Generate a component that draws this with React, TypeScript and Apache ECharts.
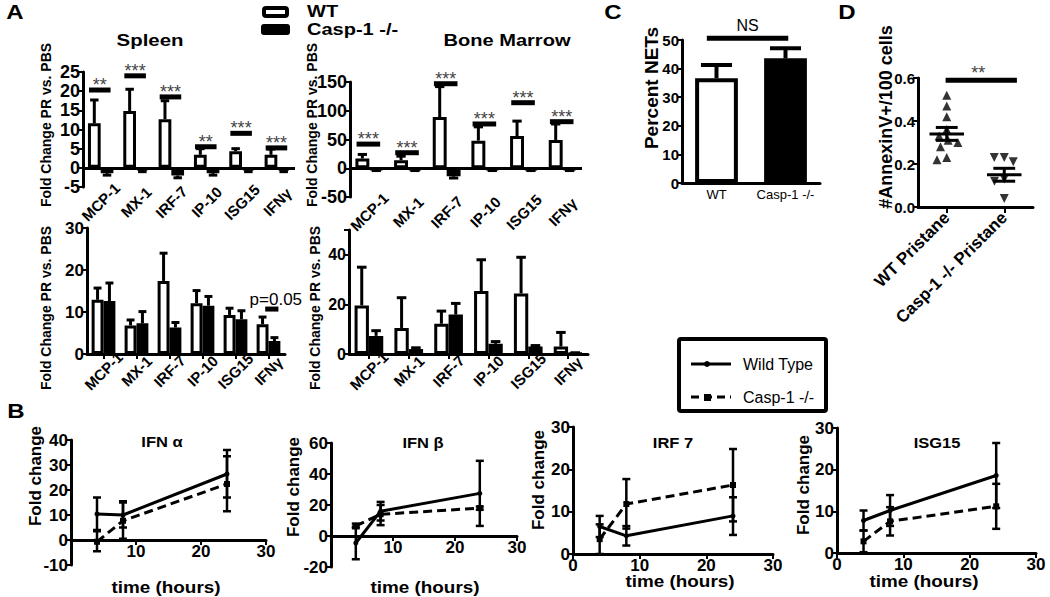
import React, { useEffect, useRef } from 'react';
import * as echarts from 'echarts';

const FONT = 'Arial, "Liberation Sans", Helvetica, sans-serif';

// ---------------- Panel A ----------------
const genes = ['MCP-1', 'MX-1', 'IRF-7', 'IP-10', 'ISG15', 'IFNγ'];

const spleenTopWT = [11.6, 14.8, 12.7, 3.4, 4.3, 3.4];
const spleenTopWTErr = [17.7, 20.5, 17.5, 5.0, 5.0, 4.9];
const spleenTopKO = [-1.4, -0.7, -2.0, -1.4, -0.7, -0.7];
const spleenTopKOErr = [-1.9, -1.0, -2.6, -1.9, -1.0, -1.0];
const spleenTopSig = [20.3, 24, 18.5, 5.5, 9, 5.2];
const spleenTopStars = ['**', '***', '***', '**', '***', '***'];

const marrowTopWT = [17, 14, 89, 48, 56, 49];
const marrowTopWTErr = [24, 21, 142, 72, 82, 77];
const marrowTopKO = [-3, -3, -14, -3, -3, -3];
const marrowTopKOErr = [-4, -4, -17, -4, -4, -4];
const marrowTopSig = [42, 27, 147, 77, 114, 81];
const marrowTopStars = ['***', '***', '***', '***', '***', '***'];

const spleenBotWT = [12.9, 6.8, 17.4, 12.1, 9.3, 7.1];
const spleenBotWTErr = [15.7, 8.1, 24, 15.1, 10.9, 8.8];
const spleenBotKO = [12.6, 7.3, 6.3, 11.5, 8.3, 3.1];
const spleenBotKOErr = [16.9, 10.1, 7.5, 13.7, 10.3, 3.9];
const spleenBotPIndex = 5;
const spleenBotPValue = 10.7;
const spleenBotPLabel = 'p=0.05';

const marrowBotWT = [19.6, 10.5, 12.2, 25.4, 24.4, 3];
const marrowBotWTErr = [35, 22.7, 17.3, 38, 39, 8.7];
const marrowBotKO = [7.3, 2, 15.9, 4.1, 3, 0.3];
const marrowBotKOErr = [9.4, 2.5, 20.4, 5, 3.4, 0.5];

// ---------------- Panel C ----------------
const netGroups = ['WT', 'Casp-1 -/-'];
const netMeans = [36.6, 43.6];
const netErr = [41.3, 47.1];
const netSig = 50.6;
const netSigLabel = 'NS';

// ---------------- Panel D ----------------
const annexGroups = ['WT Pristane', 'Casp-1 -/- Pristane'];
const annexWT = [0.52, 0.47, 0.42, 0.36, 0.33, 0.31, 0.30, 0.28, 0.23, 0.22];
const annexKO = [0.23, 0.23, 0.21, 0.13, 0.12, 0.04];
const annexMean = [0.34, 0.15];
const annexSemLo = [0.31, 0.12];
const annexSemHi = [0.37, 0.18];
const annexSig = 0.59;
const annexSigLabel = '**';

// ---------------- Panel B ----------------
const hours = [4, 8, 24];
const ifnaWT = [10.4, 10, 26.4];
const ifnaWTLo = [4, 5, 17];
const ifnaWTHi = [17, 15, 36];
const ifnaKO = [-0.7, 7.7, 22.4];
const ifnaKOLo = [-4.5, 0.5, 11.5];
const ifnaKOHi = [3.5, 15.5, 33.5];

const ifnbWT = [-4.5, 16, 27.5];
const ifnbWTLo = [-15, 10, 6.5];
const ifnbWTHi = [6, 22, 48.5];
const ifnbKO = [6.5, 14, 18];
const ifnbKOLo = [5, 7, 17];
const ifnbKOHi = [8, 20, 19];

const irf7WT = [6.5, 4.3, 9];
const irf7WTLo = [4, 2, 4.5];
const irf7WTHi = [9, 6.6, 13.4];
const irf7KO = [3.5, 11.8, 16.3];
const irf7KOLo = [0, 6, 7.7];
const irf7KOHi = [7, 17.7, 24.8];

const isgWT = [7.8, 10.2, 18.6];
const isgWTLo = [5.4, 6.5, 10.8];
const isgWTHi = [10.2, 13.9, 26.4];
const isgKO = [2.8, 7.6, 11.2];
const isgKOLo = [0.2, 4.2, 5.8];
const isgKOHi = [5.4, 11, 16.6];

// ---------------- helpers ----------------
const CAT_GAP = 0.28;

function errRender(offsetFrac: number, capFrac: number, lw: number) {
  return (params: any, api: any) => {
    const cat = api.value(0);
    const v = api.value(1);
    const e = api.value(2);
    const band = api.size([1, 0])[0];
    const p0 = api.coord([cat, v]);
    const p1 = api.coord([cat, e]);
    const x = p0[0] + offsetFrac * band;
    const cw = (capFrac * band) / 2;
    return {
      type: 'group',
      children: [
        { type: 'line', shape: { x1: x, y1: p0[1], x2: x, y2: p1[1] }, style: { stroke: '#000', lineWidth: lw } },
        { type: 'line', shape: { x1: x - cw, y1: p1[1], x2: x + cw, y2: p1[1] }, style: { stroke: '#000', lineWidth: lw } },
      ],
    };
  };
}

function sigRender(labels: string[], x1f: number, x2f: number, dy: number, fontSize: number, weight: string, color: string, dx = 0) {
  return (params: any, api: any) => {
    const cat = api.value(0);
    const v = api.value(1);
    const band = api.size([1, 0])[0];
    const p = api.coord([cat, v]);
    const xa = p[0] + x1f * band;
    const xb = p[0] + x2f * band;
    return {
      type: 'group',
      children: [
        { type: 'line', shape: { x1: xa, y1: p[1], x2: xb, y2: p[1] }, style: { stroke: '#000', lineWidth: 5 } },
        {
          type: 'text',
          x: (xa + xb) / 2 + dx,
          y: p[1] + dy,
          style: { text: labels[params.dataIndex], fill: color, fontSize, fontWeight: weight, fontFamily: FONT, align: 'center', verticalAlign: 'middle' },
        },
      ],
    };
  };
}

function pointErrRender(capPx: number, lw: number) {
  return (params: any, api: any) => {
    const x = api.value(0);
    const lo = api.coord([x, api.value(1)]);
    const hi = api.coord([x, api.value(2)]);
    return {
      type: 'group',
      children: [
        { type: 'line', shape: { x1: lo[0], y1: lo[1], x2: hi[0], y2: hi[1] }, style: { stroke: '#000', lineWidth: lw } },
        { type: 'line', shape: { x1: lo[0] - capPx, y1: lo[1], x2: lo[0] + capPx, y2: lo[1] }, style: { stroke: '#000', lineWidth: lw } },
        { type: 'line', shape: { x1: hi[0] - capPx, y1: hi[1], x2: hi[0] + capPx, y2: hi[1] }, style: { stroke: '#000', lineWidth: lw } },
      ],
    };
  };
}

function yAx(gridIndex: number, min: number, max: number, interval: number, fontSize: number, formatter?: any) {
  return {
    type: 'value',
    gridIndex,
    min,
    max,
    interval,
    axisLine: { show: true, onZero: false, lineStyle: { color: '#000', width: 3 } },
    axisTick: { show: true, length: 5, lineStyle: { color: '#000', width: 2 } },
    splitLine: { show: false },
    axisLabel: { color: '#000', fontSize, fontWeight: 'bold', fontFamily: FONT, margin: 3, formatter },
  };
}

function geneXAxis(gridIndex: number, showLine: boolean, margin: number) {
  return {
    type: 'category',
    gridIndex,
    data: genes,
    axisLine: { show: showLine, onZero: false, lineStyle: { color: '#000', width: 3 } },
    axisTick: { show: showLine, alignWithLabel: true, length: 5, lineStyle: { color: '#000', width: 2 } },
    axisLabel: { rotate: 45, align: 'center', verticalAlign: 'middle', margin, color: '#000', fontSize: 15, fontWeight: 'bold', fontFamily: FONT, interval: 0 },
    splitLine: { show: false },
  };
}

function timeXAxis(gridIndex: number, hideZero: boolean, offset: number) {
  return {
    type: 'value',
    gridIndex,
    min: 0,
    max: 30,
    interval: 10,
    offset,
    axisLine: { show: true, onZero: false, lineStyle: { color: '#000', width: 3 } },
    axisTick: { show: true, length: 5, lineStyle: { color: '#000', width: 2 } },
    splitLine: { show: false },
    axisLabel: {
      color: '#000', fontSize: 17, fontWeight: 'bold', fontFamily: FONT, margin: 3,
      formatter: (v: number) => (hideZero && v === 0 ? '' : String(v)),
    },
  };
}

const zeroLine = {
  symbol: ['none', 'none'],
  silent: true,
  label: { show: false },
  lineStyle: { color: '#000', width: 3, type: 'solid' },
  data: [{ yAxis: 0 }],
};

function barPair(gi: number, wt: number[], wtErr: number[], ko: number[], koErr: number[], withZero: boolean) {
  const half = (1 - CAT_GAP) / 4;
  const s: any[] = [
    {
      type: 'bar', name: 'WT', xAxisIndex: gi, yAxisIndex: gi, data: wt, barGap: '0%', barCategoryGap: CAT_GAP * 100 + '%',
      itemStyle: { color: '#fff', borderColor: '#000', borderWidth: 3 }, z: 3,
      markLine: withZero ? zeroLine : undefined,
    },
    {
      type: 'bar', name: 'Casp-1 -/-', xAxisIndex: gi, yAxisIndex: gi, data: ko, barGap: '0%', barCategoryGap: CAT_GAP * 100 + '%',
      itemStyle: { color: '#000', borderColor: '#000', borderWidth: 3 }, z: 3,
    },
    {
      type: 'custom', xAxisIndex: gi, yAxisIndex: gi, z: 4,
      data: wt.map((v, i) => [i, v, wtErr[i]]),
      renderItem: errRender(-half, 0.24, 3),
    },
    {
      type: 'custom', xAxisIndex: gi, yAxisIndex: gi, z: 4,
      data: ko.map((v, i) => [i, v, koErr[i]]),
      renderItem: errRender(half, 0.24, 3),
    },
  ];
  return s;
}

function lineSeries(gi: number, wt: number[], wtLo: number[], wtHi: number[], ko: number[], koLo: number[], koHi: number[]) {
  return [
    {
      type: 'line', name: 'Wild Type', xAxisIndex: gi, yAxisIndex: gi,
      data: hours.map((h, i) => [h, wt[i]]),
      symbol: 'circle', symbolSize: 5, showSymbol: true,
      lineStyle: { color: '#000', width: 3 }, itemStyle: { color: '#000' }, z: 3,
    },
    {
      type: 'line', name: 'Casp-1 -/-', xAxisIndex: gi, yAxisIndex: gi,
      data: hours.map((h, i) => [h, ko[i]]),
      symbol: 'rect', symbolSize: 6, showSymbol: true,
      lineStyle: { color: '#000', width: 3, type: [9, 5] }, itemStyle: { color: '#000' }, z: 3,
    },
    {
      type: 'custom', xAxisIndex: gi, yAxisIndex: gi, z: 4,
      data: hours.map((h, i) => [h, wtLo[i], wtHi[i]]),
      renderItem: pointErrRender(4, 2.5),
    },
    {
      type: 'custom', xAxisIndex: gi, yAxisIndex: gi, z: 4,
      data: hours.map((h, i) => [h, koLo[i], koHi[i]]),
      renderItem: pointErrRender(4, 2.5),
    },
  ];
}

function txt(text: string, x: number, y: number, fontSize: number, weight: string, opts: any = {}) {
  return {
    type: 'text',
    x,
    y,
    rotation: opts.rotation || 0,
    scaleX: opts.scaleX || 1,
    style: {
      text,
      fill: '#000',
      fontSize,
      fontWeight: weight,
      fontFamily: FONT,
      align: opts.align || 'center',
      verticalAlign: 'middle',
    },
  };
}

function buildOption() {
  const grids = [
    { left: 83, top: 72, width: 212, height: 115 },
    { left: 350, top: 82, width: 232, height: 115 },
    { left: 87, top: 228, width: 198, height: 126 },
    { left: 349, top: 230, width: 239, height: 124 },
    { left: 682, top: 40, width: 138, height: 143 },
    { left: 918, top: 78, width: 115, height: 129 },
    { left: 71, top: 440, width: 195, height: 125 },
    { left: 331, top: 443, width: 186, height: 124 },
    { left: 573, top: 427, width: 200, height: 127 },
    { left: 837, top: 428, width: 199, height: 125 },
  ].map((g) => ({ ...g, containLabel: false, outerBoundsMode: 'none' }));

  const xAxis: any[] = [
    geneXAxis(0, false, 15),
    geneXAxis(1, false, 15),
    geneXAxis(2, true, 17),
    geneXAxis(3, true, 17),
    {
      type: 'category', gridIndex: 4, data: netGroups,
      axisLine: { show: true, lineStyle: { color: '#000', width: 3 } },
      axisTick: { show: false },
      axisLabel: { color: '#000', fontSize: 13, fontFamily: FONT, margin: 5, interval: 0 },
    },
    {
      type: 'category', gridIndex: 5, data: annexGroups,
      jitter: 26, jitterOverlap: false, jitterMargin: 1,
      axisLine: { show: true, lineStyle: { color: '#000', width: 3 } },
      axisTick: { show: true, alignWithLabel: true, length: 6, lineStyle: { color: '#000', width: 2 } },
      axisLabel: { rotate: 45, color: '#000', fontSize: 17, fontWeight: 'bold', fontFamily: FONT, margin: 8, interval: 0 },
    },
    timeXAxis(6, true, -25),
    timeXAxis(7, true, -31),
    timeXAxis(8, false, 0),
    timeXAxis(9, false, 0),
  ];

  const yAxis: any[] = [
    yAx(0, -5, 25, 5, 18),
    yAx(1, -50, 150, 50, 18),
    yAx(2, 0, 30, 10, 17),
    yAx(3, 0, 50, 20, 16, (v: number) => (v === 50 ? '' : String(v))),
    yAx(4, 0, 50, 10, 15),
    yAx(5, 0, 0.6, 0.2, 15, (v: number) => v.toFixed(1)),
    yAx(6, -10, 40, 10, 17),
    yAx(7, -20, 60, 20, 17),
    yAx(8, 0, 30, 10, 17),
    yAx(9, 0, 30, 10, 17),
  ];

  const series: any[] = [
    ...barPair(0, spleenTopWT, spleenTopWTErr, spleenTopKO, spleenTopKOErr, true),
    {
      type: 'custom', xAxisIndex: 0, yAxisIndex: 0, z: 5,
      data: spleenTopSig.map((v, i) => [i, v]),
      renderItem: sigRender(spleenTopStars, -0.33, 0.28, -5, 18, 'normal', '#444'),
    },
    ...barPair(1, marrowTopWT, marrowTopWTErr, marrowTopKO, marrowTopKOErr, true),
    {
      type: 'custom', xAxisIndex: 1, yAxisIndex: 1, z: 5,
      data: marrowTopSig.map((v, i) => [i, v]),
      renderItem: sigRender(marrowTopStars, -0.33, 0.28, -5, 18, 'normal', '#444'),
    },
    ...barPair(2, spleenBotWT, spleenBotWTErr, spleenBotKO, spleenBotKOErr, false),
    {
      type: 'custom', xAxisIndex: 2, yAxisIndex: 2, z: 5,
      data: [[spleenBotPIndex, spleenBotPValue]],
      renderItem: sigRender([spleenBotPLabel], -0.1, 0.3, -10, 17, 'normal', '#000', 4),
    },
    ...barPair(3, marrowBotWT, marrowBotWTErr, marrowBotKO, marrowBotKOErr, false),
    // Panel C
    {
      type: 'bar', xAxisIndex: 4, yAxisIndex: 4, barWidth: '62%',
      data: netMeans.map((v, i) => ({
        value: v,
        itemStyle: { color: i === 0 ? '#fff' : '#000', borderColor: '#000', borderWidth: 4 },
      })),
      z: 3,
    },
    {
      type: 'custom', xAxisIndex: 4, yAxisIndex: 4, z: 4,
      data: netMeans.map((v, i) => [i, v, netErr[i]]),
      renderItem: errRender(0, 0.45, 4),
    },
    {
      type: 'custom', xAxisIndex: 4, yAxisIndex: 4, z: 5,
      data: [[0, netSig]],
      renderItem: (params: any, api: any) => {
        const band = api.size([1, 0])[0];
        const a = api.coord([0, api.value(1)]);
        const b = api.coord([1, api.value(1)]);
        const xa = a[0] - 0.14 * band;
        const xb = b[0] + 0.04 * band;
        return {
          type: 'group',
          children: [
            { type: 'line', shape: { x1: xa, y1: a[1], x2: xb, y2: a[1] }, style: { stroke: '#000', lineWidth: 5 } },
            { type: 'text', x: (xa + xb) / 2, y: a[1] - 13, style: { text: netSigLabel, fill: '#000', fontSize: 16, fontFamily: FONT, align: 'center', verticalAlign: 'middle' } },
          ],
        };
      },
    },
    // Panel D
    {
      type: 'scatter', xAxisIndex: 5, yAxisIndex: 5, symbol: 'triangle', symbolSize: 9,
      itemStyle: { color: '#000' }, data: annexWT.map((v) => [0, v]), z: 3,
    },
    {
      type: 'scatter', xAxisIndex: 5, yAxisIndex: 5, symbol: 'triangle', symbolRotate: 180, symbolSize: 9,
      itemStyle: { color: '#000' }, data: annexKO.map((v) => [1, v]), z: 3,
    },
    {
      type: 'custom', xAxisIndex: 5, yAxisIndex: 5, z: 4,
      data: annexMean.map((m, i) => [i, m, annexSemLo[i], annexSemHi[i]]),
      renderItem: (params: any, api: any) => {
        const band = api.size([1, 0])[0];
        const i = api.value(0);
        const m = api.coord([i, api.value(1)]);
        const lo = api.coord([i, api.value(2)]);
        const hi = api.coord([i, api.value(3)]);
        const mw = 0.3 * band;
        const cw = 0.19 * band;
        const st = { stroke: '#000', lineWidth: 3 };
        return {
          type: 'group',
          children: [
            { type: 'line', shape: { x1: m[0] - mw, y1: m[1], x2: m[0] + mw, y2: m[1] }, style: st },
            { type: 'line', shape: { x1: lo[0], y1: lo[1], x2: hi[0], y2: hi[1] }, style: st },
            { type: 'line', shape: { x1: lo[0] - cw, y1: lo[1], x2: lo[0] + cw, y2: lo[1] }, style: st },
            { type: 'line', shape: { x1: hi[0] - cw, y1: hi[1], x2: hi[0] + cw, y2: hi[1] }, style: st },
          ],
        };
      },
    },
    {
      type: 'custom', xAxisIndex: 5, yAxisIndex: 5, z: 5,
      data: [[0, annexSig]],
      renderItem: (params: any, api: any) => {
        const band = api.size([1, 0])[0];
        const a = api.coord([0, api.value(1)]);
        const b = api.coord([1, api.value(1)]);
        const xa = a[0] - 0.02 * band;
        const xb = b[0] + 0.22 * band;
        return {
          type: 'group',
          children: [
            { type: 'line', shape: { x1: xa, y1: a[1], x2: xb, y2: a[1] }, style: { stroke: '#000', lineWidth: 5 } },
            { type: 'text', x: (xa + xb) / 2 - 3, y: a[1] - 7, style: { text: annexSigLabel, fill: '#444', fontSize: 18, fontFamily: FONT, align: 'center', verticalAlign: 'middle' } },
          ],
        };
      },
    },
    // Panel B
    ...lineSeries(6, ifnaWT, ifnaWTLo, ifnaWTHi, ifnaKO, ifnaKOLo, ifnaKOHi),
    ...lineSeries(7, ifnbWT, ifnbWTLo, ifnbWTHi, ifnbKO, ifnbKOLo, ifnbKOHi),
    ...lineSeries(8, irf7WT, irf7WTLo, irf7WTHi, irf7KO, irf7KOLo, irf7KOHi),
    ...lineSeries(9, isgWT, isgWTLo, isgWTHi, isgKO, isgKOLo, isgKOHi),
  ];

  const R = Math.PI / 2;
  const graphic: any[] = [
    // panel letters
    txt('A', 15, 12, 20, 'bold', { scaleX: 1.2 }),
    txt('C', 613, 12, 20, 'bold', { scaleX: 1.2 }),
    txt('D', 847, 12, 20, 'bold', { scaleX: 1.2 }),
    txt('B', 16, 411, 20, 'bold', { scaleX: 1.2 }),
    // panel A titles
    txt('Spleen', 150, 40, 17, 'bold', { scaleX: 1.2 }),
    txt('Bone Marrow', 507, 40, 17, 'bold', { scaleX: 1.18 }),
    // panel A legend
    { type: 'rect', shape: { x: 264, y: 8, width: 23, height: 8, r: 2 }, style: { fill: '#fff', stroke: '#000', lineWidth: 4 } },
    { type: 'rect', shape: { x: 261, y: 24, width: 29, height: 11, r: 3 }, style: { fill: '#000' } },
    txt('WT', 307, 12, 16, 'bold', { align: 'left', scaleX: 1.25 }),
    txt('Casp-1 -/-', 307, 30, 16, 'bold', { align: 'left', scaleX: 1.25 }),
    // y axis titles (panel A)
    txt('Fold Change PR vs. PBS', 46, 125, 14, 'bold', { rotation: R }),
    txt('Fold Change PR vs. PBS', 312, 125, 14, 'bold', { rotation: R }),
    txt('Fold Change PR vs. PBS', 46, 308, 14, 'bold', { rotation: R }),
    txt('Fold Change PR vs. PBS', 315, 308, 14, 'bold', { rotation: R }),
    // panel C / D titles
    txt('Percent NETs', 651, 88, 19, 'bold', { rotation: R }),
    txt('#AnnexinV+/100 cells', 886, 117, 18, 'bold', { rotation: R }),
    // panel B titles
    txt('IFN α', 162, 442, 15, 'bold', { scaleX: 1.1 }),
    txt('IFN β', 423, 443, 15, 'bold', { scaleX: 1.1 }),
    txt('IRF 7', 673, 443, 15, 'bold', { scaleX: 1.1 }),
    txt('ISG15', 937, 443, 15, 'bold', { scaleX: 1.1 }),
    txt('Fold change', 35, 476, 17, 'bold', { rotation: R }),
    txt('Fold change', 293, 487, 17, 'bold', { rotation: R }),
    txt('Fold change', 538, 480, 17, 'bold', { rotation: R }),
    txt('Fold change', 803, 485, 17, 'bold', { rotation: R }),
    txt('time (hours)', 166, 588, 16, 'bold', { scaleX: 1.18 }),
    txt('time (hours)', 425, 588, 16, 'bold', { scaleX: 1.18 }),
    txt('time (hours)', 680, 582, 16, 'bold', { scaleX: 1.18 }),
    txt('time (hours)', 924, 582, 16, 'bold', { scaleX: 1.18 }),
    // panel B legend
    { type: 'rect', shape: { x: 679, y: 339, width: 147, height: 72, r: 2 }, style: { fill: '#fff', stroke: '#000', lineWidth: 4 } },
    { type: 'line', shape: { x1: 691, y1: 364, x2: 731, y2: 364 }, style: { stroke: '#000', lineWidth: 3 } },
    { type: 'circle', shape: { cx: 707, cy: 364, r: 3 }, style: { fill: '#000' } },
    { type: 'line', shape: { x1: 691, y1: 397, x2: 731, y2: 397 }, style: { stroke: '#000', lineWidth: 3, lineDash: [8, 5] } },
    { type: 'rect', shape: { x: 704, y: 394, width: 7, height: 7 }, style: { fill: '#000' } },
    txt('Wild Type', 743, 364, 16, 'normal', { align: 'left' }),
    txt('Casp-1 -/-', 743, 397, 16, 'normal', { align: 'left' }),
  ];

  return {
    animation: false,
    backgroundColor: '#fff',
    textStyle: { fontFamily: FONT },
    grid: grids,
    xAxis,
    yAxis,
    series,
    graphic,
  };
}

export default function App() {
  const ref = useRef<HTMLDivElement>(null);
  useEffect(() => {
    const chart = echarts.init(ref.current as HTMLDivElement, null, { renderer: 'svg' });
    chart.setOption(buildOption() as any);
    return () => chart.dispose();
  }, []);
  return (
    <div
      ref={ref}
      style={{ position: 'fixed', left: 0, top: 0, width: 1050, height: 597, background: '#fff' }}
    />
  );
}
